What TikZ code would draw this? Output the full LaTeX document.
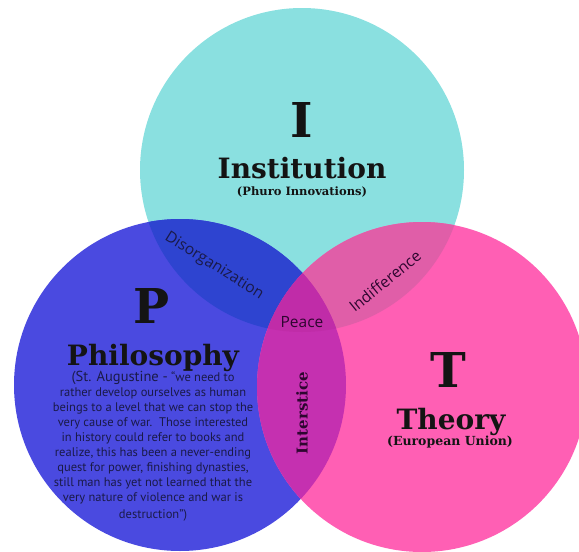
\documentclass[tikz,border=0pt]{standalone}
\usepackage{fontspec}
\setmainfont{DejaVu Serif}
\newfontfamily\labfont{Open Sans}
\newfontfamily\quotefont{PT Sans}
\usetikzlibrary{positioning}
\definecolor{instcol}{HTML}{8AE0E0}
\definecolor{philcol}{HTML}{4A4AE0}
\definecolor{theocol}{HTML}{FF5FB4}
\definecolor{ipcol}{HTML}{2E44D0}
\definecolor{itcol}{HTML}{E05EA8}
\definecolor{ptcol}{HTML}{C530B0}
\definecolor{allcol}{HTML}{C02CA8}
\definecolor{inkcol}{HTML}{141414}
\definecolor{navyink}{HTML}{1A1A48}
\definecolor{plumink}{HTML}{2E0630}
\tikzset{x=1pt, y=-1pt,
every node/.style={inner sep=0pt, text=inkcol},
letter/.style={font=\fontsize{48}{48}\selectfont\bfseries, anchor=base},
title/.style={font=\fontsize{28}{30}\selectfont\bfseries, anchor=base},
sub/.style={font=\fontsize{11.5}{13}\selectfont\bfseries, anchor=base},
zone/.style={font=\labfont\fontsize{15.5}{16}\selectfont, text=plumink},
}
\newcommand{\rI}{162}
\newcommand{\rP}{166}
\newcommand{\rT}{165}

\begin{document}
\begin{tikzpicture}
    \useasboundingbox (0,0) rectangle (579,552);
    \clip (0,0) rectangle (579,552);
    \coordinate (cI) at (302,170);
    \coordinate (cP) at (180,385);
    \coordinate (cT) at (422,387);
    \fill[instcol] (cI) circle (\rI);
    \fill[philcol] (cP) circle (\rP);
    \fill[theocol] (cT) circle (\rT);
    \begin{scope}
        \clip (cI) circle (\rI);
        \fill[ipcol] (cP) circle (\rP);
        \fill[itcol] (cT) circle (\rT);
    \end{scope}
    \begin{scope}
        \clip (cP) circle (\rP);
        \fill[ptcol] (cT) circle (\rT);
        \clip (cI) circle (\rI);
        \fill[allcol] (cT) circle (\rT);
    \end{scope}

    \node[letter] (letI) at (302,137) {I};
    \node[title] (instI) at (302,178) {Institution};
    \node[sub] (subI) at (302,195) {(Phuro Innovations)};

    \node[letter] (letP) at (152,323) {P};
    \node[title] (instP) at (153,365) {Philosophy};
    \node[anchor=north, align=center, font=\quotefont\fontsize{12.5}{15}\selectfont,
        text=navyink] (quoteP) at (153,371)
        {{\fontsize{14.5}{15}\selectfont(St. Augustine -} “we need to\\
        rather develop ourselves as human\\
        beings to a level that we can stop the\\
        very cause of war.\ \ Those interested\\
        in history could refer to books and\\
        realize, this has been a never-ending\\
        quest for power, finishing dynasties,\\
        still man has yet not learned that the\\
        very nature of violence and war is\\[2pt]
        destruction”)};

    \node[letter] (letT) at (448,387) {T};
    \node[title] (instT) at (451,429) {Theory};
    \node[sub, font=\fontsize{12.5}{13}\selectfont\bfseries] (subT) at (450,445) {(European Union)};

    \node[zone, rotate=-32, text=navyink] (dis) at (214,266) {Disorganization};
    \node[zone, rotate=39] (ind) at (385,281) {Indifference};
    \node[zone] (peace) at (302,322) {Peace};
    \node[font=\fontsize{15}{15}\selectfont\bfseries, rotate=90,
        text=plumink] (inter) at (302,413) {Interstice};
\end{tikzpicture}
\end{document}
